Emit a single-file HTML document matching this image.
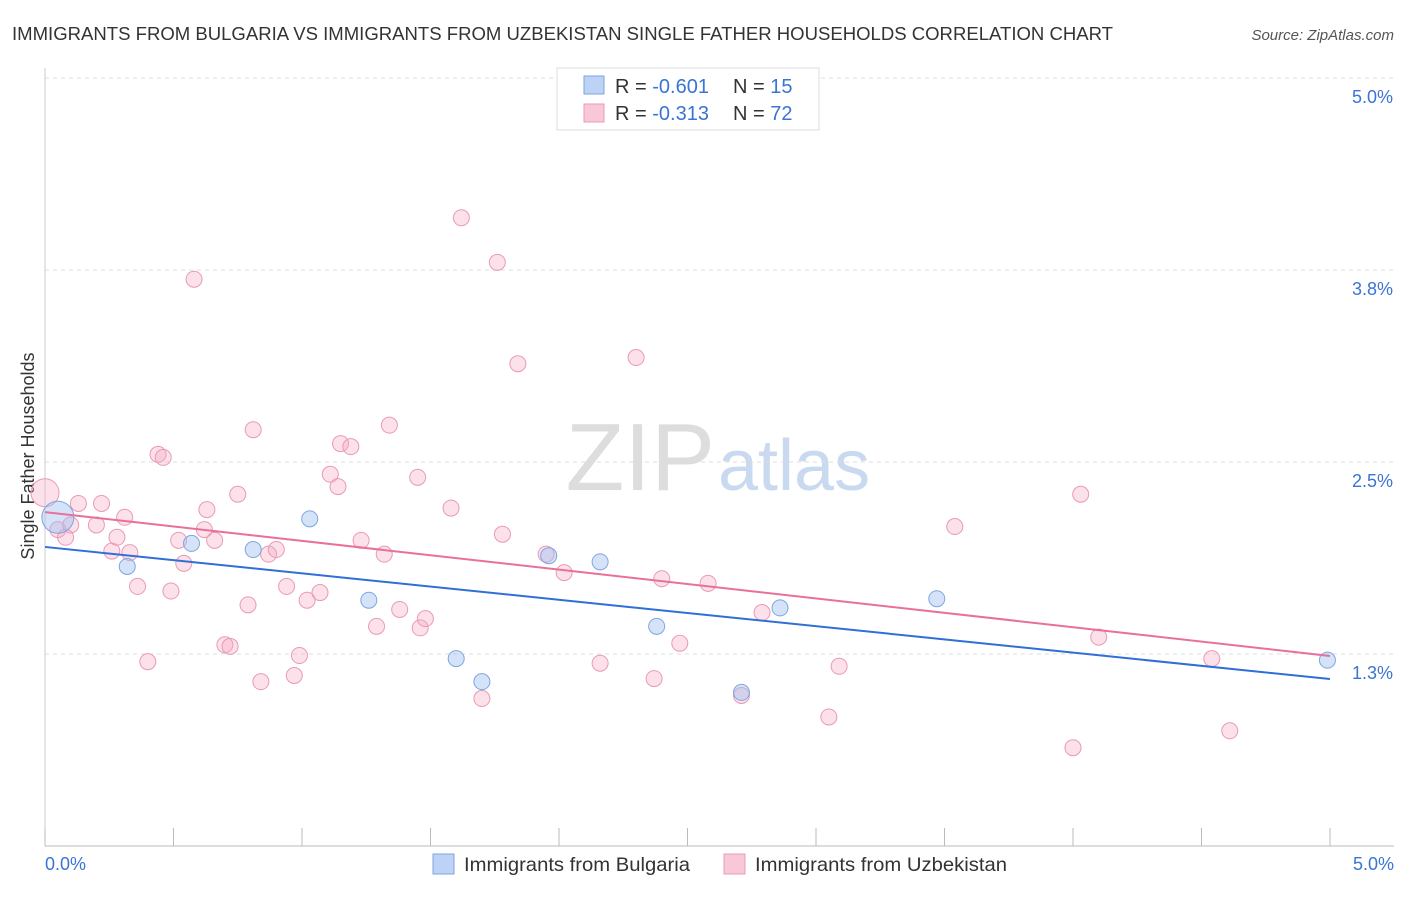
<!DOCTYPE html>
<html><head><meta charset="utf-8"><style>
body{margin:0;background:#fff;font-family:"Liberation Sans",sans-serif;}
svg text{font-family:"Liberation Sans",sans-serif;}
</style></head><body>
<svg id="chart" width="1406" height="892">
<text x="12" y="40" font-size="18" fill="#333" textLength="1101" lengthAdjust="spacingAndGlyphs">IMMIGRANTS FROM BULGARIA VS IMMIGRANTS FROM UZBEKISTAN SINGLE FATHER HOUSEHOLDS CORRELATION CHART</text>
<text x="1394" y="40" font-size="15" fill="#555" font-style="italic" text-anchor="end">Source: ZipAtlas.com</text>
<text x="715" y="490" font-size="96" fill="#ddd" text-anchor="end" font-family="Liberation Serif">ZIP</text>
<text x="718" y="490" font-size="72" fill="#c9d9f0">atlas</text>
<text transform="translate(34,456) rotate(-90)" font-size="18" fill="#333" text-anchor="middle">Single Father Households</text>
<g id="grid"></g><g id="marks"></g>
<g>
<rect x="557" y="68" width="262" height="62" fill="#fff" stroke="#ddd"/>
<rect x="584" y="76" width="20" height="18" fill="#bcd3f5" stroke="#7ea6e0"/>
<text x="615" y="93" font-size="20" fill="#333">R = <tspan fill="#3a74d4">-0.601</tspan></text>
<text x="733" y="93" font-size="20" fill="#333">N = <tspan fill="#3a74d4">15</tspan></text>
<rect x="584" y="104" width="20" height="18" fill="#f9c8d7" stroke="#e99ab5"/>
<text x="615" y="120" font-size="20" fill="#333">R = <tspan fill="#3a74d4">-0.313</tspan></text>
<text x="733" y="120" font-size="20" fill="#333">N = <tspan fill="#3a74d4">72</tspan></text>
</g>
<g>
<rect x="433" y="854" width="21" height="20" fill="#bcd3f5" stroke="#7ea6e0"/>
<text x="464" y="871" font-size="19.5" fill="#333" textLength="226" lengthAdjust="spacingAndGlyphs">Immigrants from Bulgaria</text>
<rect x="724" y="854" width="21" height="20" fill="#f9c8d7" stroke="#e99ab5"/>
<text x="755" y="871" font-size="19.5" fill="#333" textLength="252" lengthAdjust="spacingAndGlyphs">Immigrants from Uzbekistan</text>
</g>
<text x="45" y="870" font-size="18" fill="#3a74d4">0.0%</text>
<text x="1394" y="870" font-size="18" fill="#3a74d4" text-anchor="end">5.0%</text>
</svg>
<script>
const yTicks=[5.0,3.75,2.5,1.25];
const yTickLabels=["5.0%","3.8%","2.5%","1.3%"];
const xTicks=[0,0.5,1,1.5,2,2.5,3,3.5,4,4.5,5];
const bulgariaX=[0.05,0.32,0.57,0.81,1.03,1.26,1.60,1.70,1.96,2.16,2.38,2.71,2.86,3.47,4.99];
const bulgariaY=[2.14,1.82,1.97,1.93,2.13,1.60,1.22,1.07,1.89,1.85,1.43,1.00,1.55,1.61,1.21];
const uzbekX=[0.00,0.05,0.10,0.13,0.08,0.20,0.22,0.26,0.28,0.31,0.33,0.36,0.40,0.44,0.46,0.49,0.52,0.54,0.58,0.62,0.63,0.66,0.70,0.72,0.75,0.79,0.81,0.84,0.87,0.90,0.94,0.97,0.99,1.02,1.07,1.11,1.14,1.15,1.19,1.23,1.29,1.32,1.34,1.38,1.45,1.46,1.48,1.58,1.62,1.70,1.76,1.78,1.84,1.95,2.02,2.16,2.30,2.37,2.40,2.47,2.58,2.71,2.79,3.05,3.09,3.54,4.00,4.03,4.10,4.54,4.61];
const uzbekY=[2.30,2.06,2.09,2.23,2.01,2.09,2.23,1.92,2.01,2.14,1.91,1.69,1.20,2.55,2.53,1.66,1.99,1.84,3.69,2.06,2.19,1.99,1.31,1.30,2.29,1.57,2.71,1.07,1.90,1.93,1.69,1.11,1.24,1.60,1.65,2.42,2.34,2.62,2.60,1.99,1.43,1.90,2.74,1.54,2.40,1.42,1.48,2.20,4.09,0.96,3.80,2.03,3.14,1.90,1.78,1.19,3.18,1.09,1.74,1.32,1.71,0.98,1.52,0.84,1.17,2.08,0.64,2.29,1.36,1.22,0.75];
const bulgariaTrend=[1.947,1.087];
const uzbekTrend=[2.174,1.237];
const X=v=>45+v*257, Y=v=>846-v*153.6;
const NS="http://www.w3.org/2000/svg";
const grid=document.getElementById('grid'), marks=document.getElementById('marks');
function mk(tag,attrs,parent){const e=document.createElementNS(NS,tag);for(const k in attrs)e.setAttribute(k,attrs[k]);parent.appendChild(e);return e;}
yTicks.forEach((t,i)=>{
 const l=mk('line',{x1:45,x2:1394,y1:Y(t),y2:Y(t),stroke:'#ddd','stroke-dasharray':'4,4'},grid);
 
 
 const tx=mk('text',{x:1393,y:Y(t)+25,'font-size':18,fill:'#3a74d4','text-anchor':'end'},grid);
 tx.textContent=yTickLabels[i];
 
 
});
const ax=mk('line',{x1:45,x2:1394,y1:846,y2:846,stroke:'#bbb'},grid);


const ay=mk('line',{x1:45,x2:45,y1:68,y2:846,stroke:'#ccc'},grid);


xTicks.forEach(t=>{
 const l=mk('line',{x1:X(t),x2:X(t),y1:828,y2:846,stroke:'#bbb'},grid);
 
 
});
uzbekX.forEach((x,i)=>{
 const c=mk('circle',{cx:X(x),cy:Y(uzbekY[i]),r:i===0?14:8,fill:'rgba(245,170,195,0.35)',stroke:'#e99ab5','stroke-width':1},marks);
 
 
});
bulgariaX.forEach((x,i)=>{
 const c=mk('circle',{cx:X(x),cy:Y(bulgariaY[i]),r:i===0?16:8,fill:'rgba(160,192,240,0.45)',stroke:'#7ea6e0','stroke-width':1},marks);
 
 
});
const lb=mk('line',{x1:X(0),x2:X(5),y1:Y(bulgariaTrend[0]),y2:Y(bulgariaTrend[1]),stroke:'#2f6fd6','stroke-width':2},marks);


const lu=mk('line',{x1:X(0),x2:X(5),y1:Y(uzbekTrend[0]),y2:Y(uzbekTrend[1]),stroke:'#e8709a','stroke-width':2},marks);


</script>
</body></html>
